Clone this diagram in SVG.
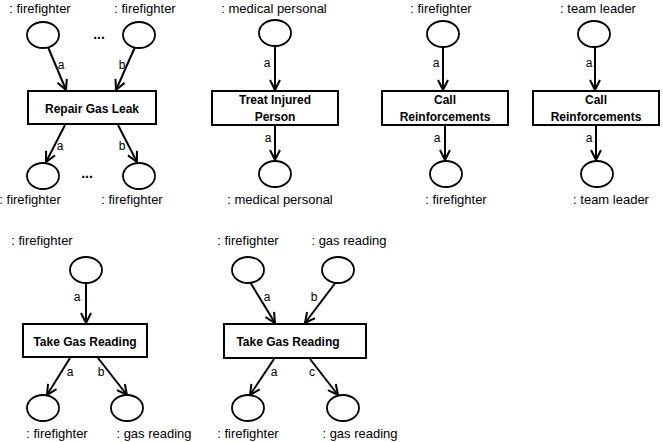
<svg xmlns="http://www.w3.org/2000/svg" width="663" height="442" viewBox="0 0 663 442">
<style>
.pl{fill:#fff;stroke:#000;stroke-width:1.8}
.tr{fill:#fff;stroke:#000;stroke-width:2}
.lb{font-family:"Liberation Sans",Arial,sans-serif;font-size:13px;fill:#000;text-anchor:middle}
.tt{font-family:"Liberation Sans",Arial,sans-serif;font-size:12px;font-weight:bold;fill:#000;text-anchor:middle}
.al{font-family:"Liberation Sans",Arial,sans-serif;font-size:12px;fill:#000;text-anchor:middle}
.ed{stroke:#000;stroke-width:2;fill:none;marker-end:url(#ah)}
.dt{font-family:"Liberation Sans",Arial,sans-serif;font-size:14px;font-weight:bold;fill:#000;text-anchor:middle}
</style>
<defs>
<marker id="ah" viewBox="0 0 12 12" refX="11" refY="6" markerWidth="12" markerHeight="12" markerUnits="userSpaceOnUse" orient="auto">
<path d="M1,1 L11,6 L1,11" fill="none" stroke="#000" stroke-width="2"/>
</marker>
</defs>
<g id="edges">
<line class="ed" x1="48" y1="47" x2="66" y2="90"/>
<line class="ed" x1="135" y1="47" x2="116" y2="90"/>
<line class="ed" x1="65" y1="125" x2="46" y2="162"/>
<line class="ed" x1="118" y1="125" x2="137" y2="162"/>
<line class="ed" x1="275" y1="46" x2="275" y2="90"/>
<line class="ed" x1="275" y1="125" x2="275" y2="160"/>
<line class="ed" x1="443" y1="47" x2="443" y2="90"/>
<line class="ed" x1="445" y1="125" x2="445" y2="160"/>
<line class="ed" x1="595" y1="47" x2="595" y2="90"/>
<line class="ed" x1="596" y1="125" x2="596" y2="160"/>
<line class="ed" x1="86" y1="283" x2="86" y2="323"/>
<line class="ed" x1="70" y1="358" x2="47" y2="395"/>
<line class="ed" x1="98" y1="358" x2="127" y2="395"/>
<line class="ed" x1="250" y1="282" x2="275" y2="323"/>
<line class="ed" x1="336" y1="282" x2="305" y2="323"/>
<line class="ed" x1="274" y1="359" x2="250" y2="395"/>
<line class="ed" x1="310" y1="359" x2="338" y2="395"/>
<text class="al" x="61" y="69">a</text>
<text class="al" x="122" y="69">b</text>
<text class="al" x="60" y="150">a</text>
<text class="al" x="122" y="150">b</text>
<text class="al" x="267" y="67">a</text>
<text class="al" x="268" y="142">a</text>
<text class="al" x="436" y="67">a</text>
<text class="al" x="437" y="142">a</text>
<text class="al" x="589" y="67">a</text>
<text class="al" x="589" y="142">a</text>
<text class="al" x="77" y="301">a</text>
<text class="al" x="70" y="376">a</text>
<text class="al" x="101" y="376">b</text>
<text class="al" x="267" y="301">a</text>
<text class="al" x="314" y="301">b</text>
<text class="al" x="274" y="376">a</text>
<text class="al" x="312" y="376">c</text>
</g>
<g id="repair">
<text class="lb" x="40" y="13">: firefighter</text>
<ellipse class="pl" cx="43" cy="35" rx="16" ry="13"/>
<text class="lb" x="145" y="13">: firefighter</text>
<ellipse class="pl" cx="139" cy="35" rx="16" ry="13"/>
<text class="dt" x="99" y="39">...</text>
<rect class="tr" x="28" y="91" width="128" height="33"/>
<text class="tt" x="92" y="113">Repair Gas Leak</text>
<ellipse class="pl" cx="43" cy="176" rx="16" ry="13"/>
<ellipse class="pl" cx="139" cy="176" rx="16" ry="13"/>
<text class="dt" x="87" y="178">...</text>
<text class="lb" x="30" y="204">: firefighter</text>
<text class="lb" x="132" y="204">: firefighter</text>
</g>
<g id="treat">
<text class="lb" x="274" y="13">: medical personal</text>
<ellipse class="pl" cx="275" cy="33" rx="16" ry="13"/>
<rect class="tr" x="212" y="91" width="126" height="34"/>
<text class="tt" x="275" y="104">Treat Injured</text>
<text class="tt" x="275" y="121">Person</text>
<ellipse class="pl" cx="275" cy="174" rx="16" ry="13"/>
<text class="lb" x="280" y="204">: medical personal</text>
</g>
<g id="call1">
<text class="lb" x="441" y="13">: firefighter</text>
<ellipse class="pl" cx="443" cy="34" rx="16" ry="13"/>
<rect class="tr" x="382" y="91" width="126" height="34"/>
<text class="tt" x="445" y="104">Call</text>
<text class="tt" x="445" y="121">Reinforcements</text>
<ellipse class="pl" cx="446" cy="174" rx="16" ry="13"/>
<text class="lb" x="456" y="204">: firefighter</text>
</g>
<g id="call2">
<text class="lb" x="598" y="13">: team leader</text>
<ellipse class="pl" cx="594" cy="34" rx="16" ry="13"/>
<rect class="tr" x="533" y="91" width="126" height="34"/>
<text class="tt" x="596" y="104">Call</text>
<text class="tt" x="596" y="121">Reinforcements</text>
<ellipse class="pl" cx="597" cy="174" rx="16" ry="13"/>
<text class="lb" x="611" y="204">: team leader</text>
</g>
<g id="take1">
<text class="lb" x="42" y="245">: firefighter</text>
<ellipse class="pl" cx="86" cy="270" rx="16" ry="13"/>
<rect class="tr" x="23" y="324" width="124" height="33"/>
<text class="tt" x="85" y="346">Take Gas Reading</text>
<ellipse class="pl" cx="43" cy="408" rx="16" ry="13"/>
<ellipse class="pl" cx="127" cy="408" rx="16" ry="13"/>
<text class="lb" x="57" y="438">: firefighter</text>
<text class="lb" x="154" y="438">: gas reading</text>
</g>
<g id="take2">
<text class="lb" x="248" y="245">: firefighter</text>
<text class="lb" x="349" y="245">: gas reading</text>
<ellipse class="pl" cx="248" cy="270" rx="16" ry="13"/>
<ellipse class="pl" cx="338" cy="270" rx="16" ry="13"/>
<rect class="tr" x="224" y="324" width="142" height="34"/>
<text class="tt" x="288" y="346">Take Gas Reading</text>
<ellipse class="pl" cx="248" cy="408" rx="16" ry="13"/>
<ellipse class="pl" cx="343" cy="408" rx="16" ry="13"/>
<text class="lb" x="248" y="438">: firefighter</text>
<text class="lb" x="360" y="438">: gas reading</text>
</g>
</svg>
